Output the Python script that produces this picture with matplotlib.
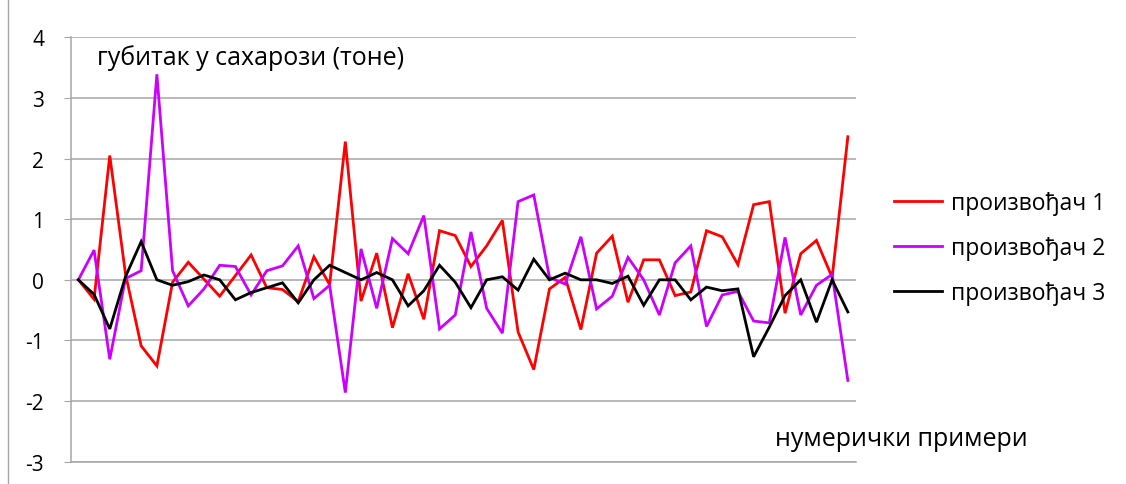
import matplotlib
matplotlib.use("Agg")
import matplotlib.pyplot as plt
from matplotlib.lines import Line2D
import numpy as np

plt.rcParams['font.family'] = ['Open Sans', 'DejaVu Sans']
plt.rcParams['axes.unicode_minus'] = False

# numeric examples 1..50, loss in sucrose (tonnes) per producer
producer1 = [0, -0.32, 2.05, 0.1, -1.09, -1.42, -0.04, 0.29, 0.01, -0.27,
             0.07, 0.41, -0.13, -0.16, -0.36, 0.38, -0.08, 2.28, -0.35, 0.44,
             -0.79, 0.10, -0.65, 0.81, 0.73, 0.22, 0.56, 0.98, -0.86, -1.48,
             -0.15, 0.04, -0.82, 0.44, 0.72, -0.37, 0.33, 0.33, -0.26, -0.20,
             0.81, 0.71, 0.25, 1.24, 1.29, -0.55, 0.43, 0.65, 0.04, 2.36]
producer2 = [0, 0.49, -1.31, 0.02, 0.15, 3.39, 0.15, -0.43, -0.15, 0.24,
             0.22, -0.25, 0.15, 0.23, 0.56, -0.31, -0.09, -1.86, 0.51, -0.47,
             0.68, 0.43, 1.06, -0.81, -0.58, 0.79, -0.47, -0.88, 1.29, 1.40,
             0.04, -0.07, 0.71, -0.48, -0.27, 0.37, 0.0, -0.58, 0.28, 0.56,
             -0.77, -0.25, -0.19, -0.68, -0.71, 0.70, -0.58, -0.09, 0.09, -1.66]
producer3 = [0, -0.24, -0.81, 0.05, 0.63, 0.0, -0.09, -0.03, 0.08, 0.0,
             -0.33, -0.21, -0.13, -0.05, -0.38, 0.0, 0.24, 0.12, 0.0, 0.12,
             0.0, -0.43, -0.18, 0.24, -0.04, -0.46, 0.0, 0.05, -0.17, 0.34,
             0.0, 0.11, 0.0, 0.0, -0.06, 0.06, -0.42, 0.0, 0.0, -0.33,
             -0.12, -0.18, -0.15, -1.27, -0.78, -0.26, 0.0, -0.70, 0.0, -0.53]

labels = ["произвођач 1", "произвођач 2", "произвођач 3"]
colors = ["#ff0000", "#cc00ff", "#000000"]
yticks = [-3, -2, -1, 0, 1, 2, 3, 4]

W, H = 1126, 485
fig = plt.figure(figsize=(W / 100, H / 100), dpi=100)
ax = fig.add_axes([70.5 / W, 1 - 462.7 / H, (855.7 - 70.5) / W, (462.7 - 38.3) / H])

x = np.arange(len(producer1))
for series, lab, col in zip([producer1, producer2, producer3], labels, colors):
    ax.plot(x, series, color=col, lw=2.0, label=lab, solid_joinstyle='miter')

ax.set_xlim(-0.5, len(producer1) - 0.5)
ax.set_ylim(-3, 4)
ax.set_yticks(yticks)
ax.set_xticks([])
ax.yaxis.grid(True, color="#a6a6a6", lw=1.1)
ax.set_axisbelow(True)
for side in ["top", "right"]:
    ax.spines[side].set_visible(False)
ax.spines["left"].set_color("#a6a6a6")
ax.spines["bottom"].set_color("#a6a6a6")
ax.spines["left"].set_linewidth(1.1)
ax.spines["bottom"].set_linewidth(1.1)
ax.tick_params(axis="y", length=5, color="#a6a6a6", pad=14, labelsize=15)

fig.text(97 / W, 1 - 58 / H, "губитак у сахарози (тоне)", fontsize=18, va="center", ha="left")
fig.text(775 / W, 1 - 440 / H, "нумерички примери", fontsize=18, va="center", ha="left")

fig.legend(loc="center left", bbox_to_anchor=(894 / W, 1 - 249 / H), frameon=False,
           fontsize=16.5, handlelength=2.1, handletextpad=0.4, labelspacing=0.9,
           borderpad=0, borderaxespad=0)

fig.add_artist(Line2D([8 / W, 8 / W], [0, 1], color="#a6a6a6", lw=1))

fig.savefig("out.png", dpi=100)
